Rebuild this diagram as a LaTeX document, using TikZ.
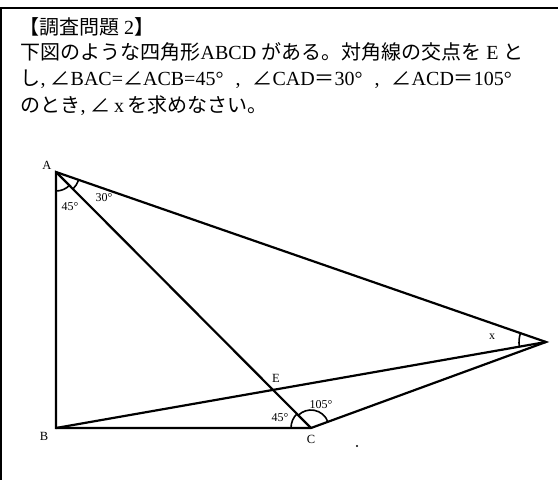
\documentclass[tikz,border=0pt]{standalone}
\usepackage{fontspec}
\setmainfont{Liberation Serif}
\newfontfamily\jp{Noto Sans CJK JP}
\begin{document}
\begin{tikzpicture}[x=1pt,y=1pt,
  edge/.style={line width=2.2pt, line join=miter},
  angarc/.style={line width=1.6pt},
  vlabel/.style={font=\fontsize{12.5}{13}\selectfont, inner sep=0pt},
  alabel/.style={font=\fontsize{12}{13}\selectfont, inner sep=0pt},
  txt/.style={anchor=base west, inner sep=0pt, font=\fontsize{20}{24}\selectfont}]
\useasboundingbox (0,0) rectangle (558,480);
% frame
\draw[line width=1.8pt] (1,0) -- (1,472) -- (558,472);
% text
\node[txt] (t1) at (19,445) {{\jp 【調査問題} 2{\jp 】}};
\node[txt] (t2) at (20.5,420.5) {{\jp 下図のような四角形}ABCD {\jp がある。対角線の交点を} E {\jp と}};
\node[txt] (t3) at (20.5,394) {{\jp し}, {\jp ∠}BAC={\jp ∠}ACB=45°\hspace{0.6em},\hspace{0.6em}{\jp ∠}CAD{\jp ＝}30°\hspace{0.6em},\hspace{0.6em}{\jp ∠}ACD{\jp ＝}105°};
\node[txt] (t4) at (20.5,367.5) {{\jp のとき}, {\jp ∠}\,x\,{\jp を求めなさい。}};
% geometry
\coordinate (A) at (56,308);
\coordinate (B) at (56,52);
\coordinate (C) at (311,52);
\coordinate (D) at (546,138);
\draw[edge] (A) -- (B) -- (C) -- (D) -- cycle;
\draw[edge] (A) -- (C);
\draw[edge] (B) -- (D);
\coordinate (E) at (intersection of A--C and B--D);
% angle arcs
\draw[angarc] ([shift={(270:19)}]A) arc (270:315:19);
\draw[angarc] ([shift={(315:24)}]A) arc (315:341:24);
\draw[angarc] ([shift={(135:20)}]C) arc (135:180:20);
\draw[angarc] ([shift={(20:18)}]C) arc (20:135:18);
\draw[angarc] ([shift={(161:27)}]D) arc (161:190:27);
% labels
\node[vlabel] (lA) at (47,315) {A};
\node[vlabel] (lB) at (44,44) {B};
\node[vlabel] (lC) at (311,41) {C};
\node[vlabel] (lE) at (276,102) {E};
\node[alabel] (a1) at (70,273) {45°};
\node[alabel] (a2) at (104,282) {30°};
\node[alabel] (a3) at (280,62) {45°};
\node[alabel] (a4) at (321,75) {105°};
\node[alabel] (ax) at (492,143) {x};
\coordinate (dot) at (357,34);
\fill (dot) circle (1.2pt);
\end{tikzpicture}
\end{document}
